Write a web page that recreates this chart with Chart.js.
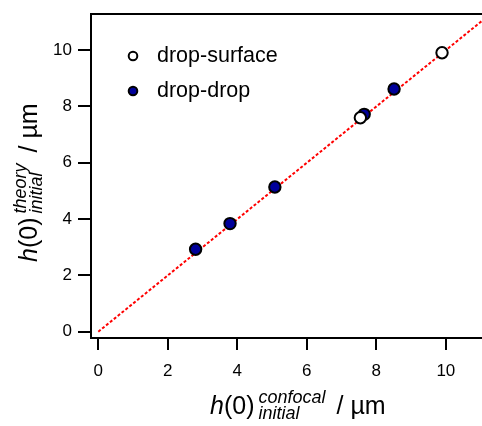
<!DOCTYPE html>
<html>
<head>
<meta charset="utf-8">
<script src="https://cdn.jsdelivr.net/npm/chart.js@4"></script>
<style>
  html, body { margin: 0; padding: 0; background: #fff; }
  #wrap { width: 482px; height: 426px; }
</style>
</head>
<body>
<div id="wrap"><canvas id="c" width="482" height="426"></canvas></div>
<script>
// 読み取った値
const surfaceX = [7.54, 9.89];
const surfaceY = [7.60, 9.91];
const dropX = [2.80, 3.79, 5.08, 7.65, 8.51];
const dropY = [2.93, 3.84, 5.14, 7.72, 8.62];
const fitX = [0, 11.1];
const fitY = [0, 11.1];
const xTicks = [0, 2, 4, 6, 8, 10];
const yTicks = [0, 2, 4, 6, 8, 10];

const FONT = '"Liberation Sans", Arial, sans-serif';

function pts(xs, ys) {
    return xs.map((x, i) => ({ x: x, y: ys[i] }));
}

// 枠線・凡例・軸タイトルを描くプラグイン
const decor = {
    id: 'decor',
    afterDraw(chart) {
        const ctx = chart.ctx;
        const a = chart.chartArea;
        ctx.save();

        // 上の枠線
        ctx.strokeStyle = '#000';
        ctx.lineWidth = 2;
        ctx.beginPath();
        ctx.moveTo(a.left - 1, a.top);
        ctx.lineTo(a.right, a.top);
        ctx.stroke();

        // 凡例
        const items = [chart.data.datasets[0], chart.data.datasets[1]];
        items.forEach((ds, i) => {
            const cy = 56 + i * 35;
            ctx.beginPath();
            ctx.arc(133, cy, 4.3, 0, Math.PI * 2);
            ctx.fillStyle = ds.backgroundColor;
            ctx.fill();
            ctx.lineWidth = 2;
            ctx.strokeStyle = '#000';
            ctx.stroke();
            ctx.fillStyle = '#000';
            ctx.font = '21.5px ' + FONT;
            ctx.textBaseline = 'alphabetic';
            ctx.textAlign = 'left';
            ctx.fillText(ds.label, 157, cy + 6);
        });

        // 軸タイトル
        function title(sup, x0, base) {
            let x = x0;
            ctx.font = 'italic 25px ' + FONT;
            ctx.fillText('h', x, base);
            x += ctx.measureText('h').width;
            ctx.font = '25px ' + FONT;
            ctx.fillText('(0)', x, base);
            x += ctx.measureText('(0)').width + 4;
            ctx.font = 'italic 18px ' + FONT;
            ctx.fillText(sup, x, base - 11);
            const w1 = ctx.measureText(sup).width;
            ctx.fillText('initial', x, base + 5);
            const w2 = ctx.measureText('initial').width;
            x += Math.max(w1, w2) + 11;
            ctx.font = '25px ' + FONT;
            ctx.fillText('/ µm', x, base);
        }
        ctx.fillStyle = '#000';
        title('confocal', 210, 414);

        ctx.translate(37, 262);
        ctx.rotate(-Math.PI / 2);
        title('theory', 0, 0);

        ctx.restore();
    }
};

new Chart(document.getElementById('c'), {
    type: 'scatter',
    data: {
        datasets: [
            {
                label: 'drop-surface',
                data: pts(surfaceX, surfaceY),
                backgroundColor: '#ffffff',
                borderColor: '#000000',
                borderWidth: 2,
                pointRadius: 5.7,
                pointHoverRadius: 5.7
            },
            {
                label: 'drop-drop',
                data: pts(dropX, dropY),
                backgroundColor: '#00009a',
                borderColor: '#000000',
                borderWidth: 2,
                pointRadius: 5.7,
                pointHoverRadius: 5.7
            },
            {
                label: 'fit',
                type: 'line',
                data: pts(fitX, fitY),
                borderColor: '#ff0000',
                borderWidth: 2,
                borderDash: [3, 2],
                pointRadius: 0,
                fill: false
            }
        ]
    },
    options: {
        responsive: false,
        animation: false,
        events: [],
        layout: { autoPadding: false, padding: { left: 0, top: 14, right: 0, bottom: 0 } },
        plugins: {
            legend: { display: false },
            tooltip: { enabled: false }
        },
        scales: {
            x: {
                type: 'linear',
                min: -0.21,
                max: 11.04,
                afterFit: s => { s.height = 88; s.paddingLeft = 0; s.paddingRight = 0; },
                afterBuildTicks: s => { s.ticks = xTicks.map(v => ({ value: v })); },
                border: { display: true, color: '#000', width: 2 },
                grid: { drawOnChartArea: false, drawTicks: true, tickLength: 12, color: '#000', lineWidth: 2 },
                ticks: { color: '#000', font: { family: FONT, size: 17 }, padding: 11, maxRotation: 0 }
            },
            y: {
                type: 'linear',
                min: -0.224,
                max: 11.285,
                afterFit: s => { s.width = 91; s.paddingTop = 0; s.paddingBottom = 0; },
                afterBuildTicks: s => { s.ticks = yTicks.map(v => ({ value: v })); },
                border: { display: true, color: '#000', width: 2 },
                grid: { drawOnChartArea: false, drawTicks: true, tickLength: 13, color: '#000', lineWidth: 2 },
                ticks: { color: '#000', font: { family: FONT, size: 17 }, padding: 6 }
            }
        }
    },
    plugins: [decor]
});
</script>
</body>
</html>
